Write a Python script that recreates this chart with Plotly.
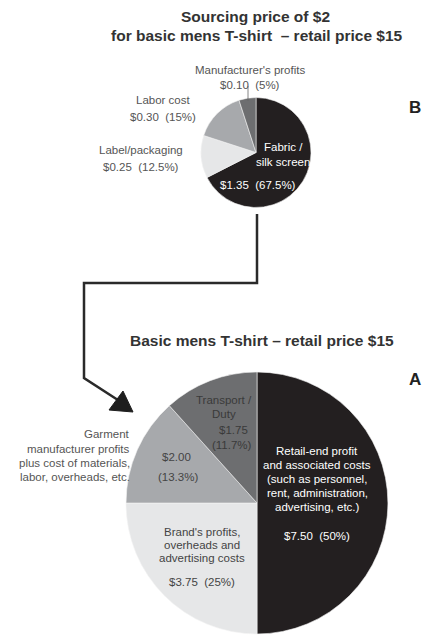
import plotly.graph_objects as go

W, H = 423, 637

# ---------------- data ----------------
top_title = ["Sourcing price of $2", "for basic mens T-shirt  \u2013 retail price $15"]
top_labels = ["Fabric /<br>silk screen", "Label/packaging", "Labor cost", "Manufacturer's profits"]
top_values = [1.35, 0.25, 0.30, 0.10]

bottom_title = "Basic mens T-shirt \u2013 retail price $15"
bottom_labels = [
    "Retail-end profit<br>and associated costs<br>(such as personnel,<br>rent, administration,<br>advertising, etc.)",
    "Brand's profits,<br>overheads and<br>advertising costs",
    "Garment<br>manufacturer profits<br>plus cost of materials,<br>labor, overheads, etc.",
    "Transport /<br>Duty",
]
bottom_values = [7.50, 3.75, 2.00, 1.75]

panel_letters = ["B", "A"]

# ---------------- styles ----------------
BLACK = "#231f20"
LIGHT = "#e6e7e8"
MID = "#a7a9ac"
DARK = "#6d6e70"
top_colors = [BLACK, LIGHT, MID, DARK]
bottom_colors = [BLACK, LIGHT, MID, DARK]
FONT = "Liberation Sans, Arial, sans-serif"
LS = 11.5  # label font size


def px(x):
    return x / W


def py(y):
    return 1 - y / H


def fmt(v, total):
    p = v / total * 100
    ps = f"{p:.1f}".rstrip("0").rstrip(".")
    return f"${v:.2f}", f"({ps}%)"


fig = go.Figure()

# pies (center x, center y, radius in px)
tc = (256, 152.5, 55)
bc = (257, 503, 131)


def dom(c):
    cx, cy, r = c
    return dict(x=[px(cx - r), px(cx + r)], y=[py(cy + r), py(cy - r)])


fig.add_trace(go.Pie(
    labels=[l.replace("<br>", " ") for l in top_labels], values=top_values,
    sort=False, direction="clockwise", rotation=0,
    marker=dict(colors=top_colors, line=dict(color="#f4f4f4", width=0.6)),
    textinfo="none", hoverinfo="label+value", showlegend=False, domain=dom(tc),
))
fig.add_trace(go.Pie(
    labels=[l.replace("<br>", " ") for l in bottom_labels], values=bottom_values,
    sort=False, direction="clockwise", rotation=0,
    marker=dict(colors=bottom_colors, line=dict(color="#f4f4f4", width=0.6)),
    textinfo="none", hoverinfo="label+value", showlegend=False, domain=dom(bc),
))

ann = []


def add_text(x, y, text, size=LS, color="#555", xanchor="center", bold=False):
    if bold:
        text = f"<b>{text}</b>"
    ann.append(dict(x=px(x), y=py(y), xref="paper", yref="paper", text=text, showarrow=False,
                    xanchor=xanchor, yanchor="middle",
                    font=dict(family=FONT, size=size, color=color)))


def add_lines(x, ys, text, **kw):
    for line, y in zip(text.split("<br>"), ys):
        add_text(x, y, line, **kw)


# titles
add_text(255, 17, top_title[0], size=15.5, color="#333", bold=True)
add_text(257, 35, top_title[1], size=15.5, color="#333", bold=True)
add_text(262, 340, bottom_title, size=15.5, color="#333", bold=True)

# panel letters
add_text(415, 107, panel_letters[0], size=17, color="#222", bold=True)
add_text(415, 379, panel_letters[1], size=17, color="#222", bold=True)

# top pie labels
tt = sum(top_values)
d, p = fmt(top_values[0], tt)
add_lines(283, [147, 162], top_labels[0], color="#ffffff")
add_text(258, 185, f"{d}  {p}", color="#ffffff")
d, p = fmt(top_values[1], tt)
add_lines(141, [150, 167], f"{top_labels[1]}<br>{d}  {p}", color="#555")
d, p = fmt(top_values[2], tt)
add_lines(163, [100, 117], f"{top_labels[2]}<br>{d}  {p}", color="#555")
d, p = fmt(top_values[3], tt)
add_lines(250, [70, 85], f"{top_labels[3]}<br>{d}  {p}", color="#555")

# bottom pie labels
bt = sum(bottom_values)
d, p = fmt(bottom_values[0], bt)
add_lines(317, [451, 465, 479, 493, 507], bottom_labels[0], color="#ffffff")
add_text(317, 536, f"{d}  {p}", color="#ffffff")
d, p = fmt(bottom_values[1], bt)
add_lines(202, [532, 545, 558], bottom_labels[1], color="#444")
add_text(202, 582, f"{d}  {p}", color="#444")
d, p = fmt(bottom_values[2], bt)
add_text(176, 457, d, color="#444")
add_text(178, 477, p, color="#444")
add_lines(132, [434, 449, 463, 477], bottom_labels[2], color="#555", xanchor="right")
d, p = fmt(bottom_values[3], bt)
add_lines(224, [400, 414], bottom_labels[3], color="#3a3a3a")
add_text(233, 430, d, color="#3a3a3a")
add_text(232, 445, p, color="#3a3a3a")

shapes = []
# leader line for manufacturer's profits
shapes.append(dict(type="line", xref="paper", yref="paper", x0=px(248), y0=py(86), x1=px(248), y1=py(101),
                   line=dict(color="#666", width=0.8)))
# connecting arrow
path = (f"M{px(257)},{py(214)} L{px(257)},{py(283)} L{px(84)},{py(283)} "
        f"L{px(84)},{py(378)} L{px(121)},{py(402)}")
shapes.append(dict(type="path", xref="paper", yref="paper", path=path,
                   line=dict(color="#2a2a2a", width=2.5)))
head = f"M{px(133)},{py(412)} L{px(109)},{py(410)} L{px(123)},{py(391)} Z"
shapes.append(dict(type="path", xref="paper", yref="paper", path=head,
                   fillcolor="#1e1e1e", line=dict(color="#1e1e1e", width=1)))

fig.update_layout(
    width=W, height=H, margin=dict(l=0, r=0, t=0, b=0),
    paper_bgcolor="white", plot_bgcolor="white",
    annotations=ann, shapes=shapes, showlegend=False,
)

fig.write_html("out.html", config={"displayModeBar": False},
               post_script="document.body.style.margin='0';document.body.style.overflow='hidden';")
